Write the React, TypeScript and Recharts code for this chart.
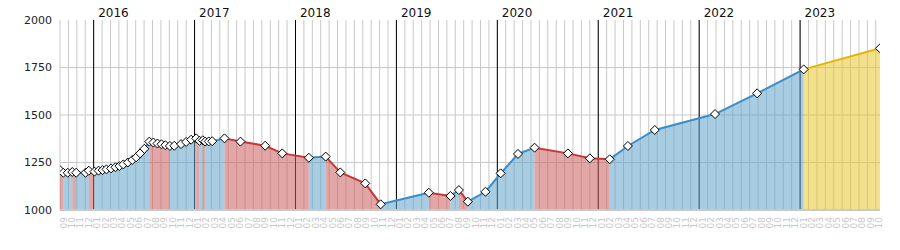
import { ComposedChart, Area, Line, XAxis, YAxis, CartesianGrid } from 'recharts';

// rating history, one entry per diamond
const dates = [
  '2015-09-01', '2015-09-13', '2015-09-29', '2015-10-15', '2015-10-29', '2015-12-02', '2015-12-14',
  '2016-01-04', '2016-01-19', '2016-02-03', '2016-02-17', '2016-03-03', '2016-03-19', '2016-04-03',
  '2016-04-17', '2016-05-03', '2016-05-19', '2016-06-03', '2016-06-17', '2016-07-02', '2016-07-20',
  '2016-08-04', '2016-08-19', '2016-09-03', '2016-09-17', '2016-10-03', '2016-10-19', '2016-11-13',
  '2016-12-01', '2016-12-19', '2017-01-07', '2017-01-19', '2017-01-31', '2017-02-09', '2017-02-22',
  '2017-03-04', '2017-04-18', '2017-06-15', '2017-09-13', '2017-11-14', '2018-02-19', '2018-04-19',
  '2018-06-11', '2018-09-10', '2018-11-05', '2019-04-27', '2019-07-14', '2019-08-14', '2019-09-16',
  '2019-11-19', '2020-01-13', '2020-03-15', '2020-05-14', '2020-09-13', '2020-12-01', '2021-02-12',
  '2021-04-17', '2021-07-23', '2022-02-28', '2022-07-28', '2023-01-14', '2023-10-16',
];
const ratings = [
  1210, 1196, 1196, 1200, 1196, 1196, 1207,
  1202, 1207, 1210, 1214, 1219, 1225, 1231,
  1240, 1250, 1263, 1277, 1298, 1322, 1360,
  1355, 1350, 1346, 1341, 1337, 1338, 1347,
  1358, 1370, 1377, 1364, 1367, 1360, 1361,
  1362, 1377, 1360, 1338, 1298, 1275, 1281,
  1198, 1140, 1030, 1091, 1074, 1105, 1044,
  1096, 1193, 1295, 1328, 1298, 1272, 1267,
  1337, 1421, 1505, 1614, 1740, 1851,
];
// segments from this point on are the projection
const forecastFrom = 60;

const yTicks = [1000, 1250, 1500, 1750, 2000];
const yGrid = [1250, 1500, 1750];
const yearLabels = ['2016', '2017', '2018', '2019', '2020', '2021', '2022', '2023'];
const monthLabels = ['01', '02', '03', '04', '05', '06', '07', '08', '09', '10', '11', '12'];

const START_YEAR = 2015;
const START_MONTH = 9;
const MONTH_COUNT = 98;
const X_END = 97.5;

const COLORS = {
  up: { line: '#3a8dc8', fill: 'rgb(97,164,204)' },
  down: { line: '#c83838', fill: 'rgb(202,93,93)' },
  forecast: { line: '#e6b400', fill: 'rgb(231,199,46)' },
};

// date -> months since Sep 2015
const toMonths = (d: string) => {
  const [y, m, day] = d.split('-').map(Number);
  return (y - START_YEAR) * 12 + (m - START_MONTH) + (day - 1) / 30.5;
};

const monthTicks = Array.from({ length: MONTH_COUNT }, (_, i) => i);
const yearTicks = yearLabels.map((y) => (Number(y) - START_YEAR) * 12 + 1 - START_MONTH);

type Kind = 'up' | 'down' | 'forecast';

// group consecutive segments with the same direction
const runs: { kind: Kind; from: number; to: number }[] = [];
ratings.slice(1).forEach((v, i) => {
  const kind: Kind = i >= forecastFrom ? 'forecast' : v >= ratings[i] ? 'up' : 'down';
  const last = runs[runs.length - 1];
  if (last && last.kind === kind) last.to = i + 1;
  else runs.push({ kind, from: i, to: i + 1 });
});

const rows = dates.map((d, i) => {
  const row: Record<string, number> = { m: toMonths(d), rating: ratings[i] };
  runs.forEach((r, k) => {
    if (i >= r.from && i <= r.to) row[`r${k}`] = ratings[i];
  });
  return row;
});

const MonthTick = ({ x, y, payload }: any) => {
  const tx = x + 6.5;
  const ty = y - 1;
  const label = monthLabels[(START_MONTH - 1 + payload.value) % 12];
  return (
    <text x={tx} y={ty} transform={`rotate(-90 ${tx} ${ty})`} textAnchor="end" fontSize={9} fill="#c8c8c8">
      {label}
    </text>
  );
};

const YearTick = ({ x, y, index }: any) => (
  <text x={x + 4.5} y={y + 5} fontSize={12} fill="#111">
    {yearLabels[index]}
  </text>
);

const Diamond = ({ cx, cy }: any) => {
  if (cx == null || cy == null) return null;
  const r = 4.5;
  return (
    <polygon
      points={`${cx},${cy - r} ${cx + r},${cy} ${cx},${cy + r} ${cx - r},${cy}`}
      fill="#fff"
      stroke="#000"
      strokeWidth={1}
    />
  );
};

export default function App() {
  return (
    <div style={{ width: 900, height: 250 }}>
      <style>{'body{margin:0}'}</style>
      <ComposedChart
        width={900}
        height={250}
        data={rows}
        margin={{ top: 0, right: 20, bottom: 0, left: 0 }}
        style={{ fontFamily: 'DejaVu Sans' }}
      >
        <CartesianGrid stroke="#c8c8c8" verticalValues={monthTicks} horizontalValues={yGrid} />
        <CartesianGrid stroke="#000" horizontal={false} verticalValues={yearTicks} />

        <XAxis
          dataKey="m"
          type="number"
          domain={[0, X_END]}
          ticks={monthTicks}
          interval={0}
          height={40}
          tick={<MonthTick />}
          tickLine={false}
          axisLine={{ stroke: '#c8c8c8', strokeWidth: 2 }}
          allowDataOverflow
        />
        <XAxis
          xAxisId="top"
          orientation="top"
          dataKey="m"
          type="number"
          domain={[0, X_END]}
          ticks={yearTicks}
          interval={0}
          height={20}
          tick={<YearTick />}
          tickLine={false}
          axisLine={false}
          allowDataOverflow
        />
        <YAxis
          domain={[1000, 2000]}
          ticks={yTicks}
          width={60}
          tick={{ fontSize: 11, fill: '#222' }}
          tickLine={false}
          axisLine={false}
          allowDataOverflow
        />

        {/* fills, coloured by direction */}
        {runs.map((r, k) => (
          <Area
            key={`a${k}`}
            type="linear"
            dataKey={`r${k}`}
            stroke="none"
            fill={COLORS[r.kind].fill}
            fillOpacity={0.55}
            dot={false}
            activeDot={false}
            isAnimationActive={false}
          />
        ))}

        {/* data point markers */}
        <Line
          dataKey="rating"
          stroke="none"
          dot={<Diamond />}
          activeDot={false}
          isAnimationActive={false}
        />

        {runs.map((r, k) => (
          <Line
            key={`l${k}`}
            type="linear"
            dataKey={`r${k}`}
            stroke={COLORS[r.kind].line}
            strokeWidth={2}
            dot={false}
            activeDot={false}
            isAnimationActive={false}
          />
        ))}
      </ComposedChart>
    </div>
  );
}
